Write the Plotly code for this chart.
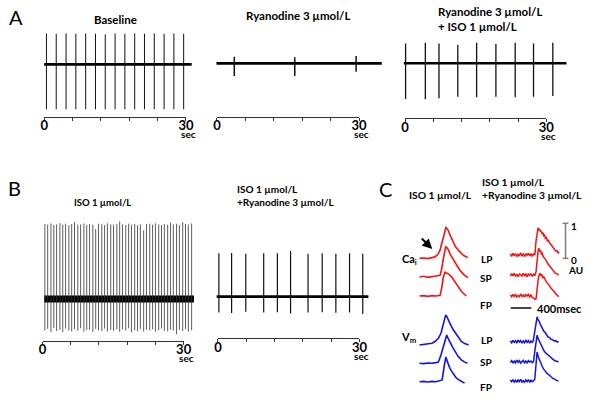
import plotly.graph_objects as go

W, H = 600, 401
FONT = "Lato"

# ======================= DATA =======================
# Panel A - spike times (s), upward / downward deflection (a.u.), recording span (s)
baseline_spike_s = [0.48, 2.55, 4.63, 6.70, 8.78, 10.85, 12.92, 15.00, 17.07, 19.15,
                    21.22, 23.29, 25.37, 27.44, 29.51]
baseline_up = [0.98, 0.97, 0.98, 0.97, 0.98, 0.97, 0.95, 0.98, 0.97, 0.98, 0.97, 0.98, 0.97, 0.98, 0.97]
baseline_dn = [-1.50, -1.52, -1.50, -1.49, -1.51, -1.50, -1.50, -1.49, -1.51, -1.50,
               -1.50, -1.51, -1.49, -1.50, -1.50]
baseline_rec = [0.0, 31.2]

ryan_spike_s = [3.66, 16.43, 29.38]
ryan_up = [0.21, 0.19, 0.23]
ryan_dn = [-0.40, -0.40, -0.27]
ryan_rec = [-0.1, 34.8]

ryaniso_spike_s = [0.1, 4.3, 7.2, 11.2, 15.2, 19.3, 23.4, 27.3, 31.4]
ryaniso_up = [0.63, 0.65, 0.63, 0.58, 0.65, 0.61, 0.65, 0.63, 0.65]
ryaniso_dn = [-1.13, -1.14, -1.11, -1.06, -1.08, -1.06, -1.08, -1.06, -1.04]
ryaniso_rec = [-0.27, 34.3]

# Panel B
iso_spike_s = [0.5, 1.1, 1.8, 2.4, 3.0, 3.7, 4.3, 4.9, 5.6, 6.2,
               6.8, 7.5, 8.1, 8.8, 9.4, 10.0, 10.7, 11.3, 11.9, 12.6,
               13.2, 13.8, 14.5, 15.1, 15.8, 16.4, 17.0, 17.7, 18.3, 18.9,
               19.6, 20.2, 20.8, 21.5, 22.1, 22.8, 23.4, 24.0, 24.7, 25.3,
               25.9, 26.6, 27.2, 27.8, 28.5, 29.1, 29.8, 30.4, 31.0, 31.7]
iso_up = [2.38, 2.36, 2.40, 2.35, 2.37, 2.41, 2.36, 2.39, 2.34, 2.38,
          2.45, 2.36, 2.37, 2.40, 2.35, 2.38, 2.36, 2.22, 2.39, 2.37,
          2.35, 2.40, 2.37, 2.36, 2.38, 2.46, 2.37, 2.35, 2.39, 2.36,
          2.38, 2.34, 2.37, 2.18, 2.38, 2.39, 2.36, 2.40, 2.37, 2.35,
          2.38, 2.36, 2.42, 2.37, 2.39, 2.35, 2.44, 2.38, 2.36, 2.40]
iso_dn = [-1.00, -0.95, -1.05, -0.92, -1.02, -0.98, -1.06, -0.94, -1.00, -1.03,
          -0.96, -1.01, -0.93, -1.04, -0.99, -0.97, -1.05, -0.95, -1.00, -1.02,
          -0.94, -1.03, -0.98, -1.01, -0.96, -1.04, -0.97, -1.00, -0.93, -1.05,
          -0.99, -1.02, -0.95, -1.03, -0.98, -1.00, -0.96, -1.04, -0.99, -0.94,
          -1.01, -1.03, -0.97, -1.00, -1.12, -0.98, -1.02, -0.95, -1.04, -0.99]
iso_rec = [0.35, 32.2]

isoryan_spike_s = [0.2, 2.9, 5.9, 9.7, 12.6, 15.4, 19.1, 22.1, 25.0, 27.9, 30.7]
isoryan_up = [1.38, 1.39, 1.36, 1.38, 1.38, 1.45, 1.36, 1.38, 1.36, 1.38, 1.36]
isoryan_dn = [-0.50, -0.52, -0.48, -0.50, -0.49, -0.53, -0.50, -0.49, -0.51, -0.50, -0.55]
isoryan_rec = [-0.27, 31.9]

time_tick_s = [0, 6, 12, 18, 24, 30]
time_tick_text = ["0", " ", " ", " ", " ", "30"]

# Panel C - optical traces (time in ms, amplitude in AU)
ca_iso_lp_ms = [0, 80, 160, 240, 300, 340, 368, 400, 432, 470, 500, 514, 530, 558, 600, 654, 700, 781, 860, 940]
ca_iso_lp = [0.00, 0.01, -0.01, 0.02, 0.04, 0.09, 0.14, 0.24, 0.43, 0.68, 0.84, 0.88, 0.86, 0.80, 0.64, 0.47, 0.33, 0.19, 0.08, 0.02]
ca_iso_sp_ms = [0, 80, 160, 240, 320, 400, 430, 460, 490, 508, 530, 559, 600, 654, 720, 781, 860, 940]
ca_iso_sp = [0.00, 0.02, -0.01, 0.02, 0.03, 0.05, 0.22, 0.50, 0.78, 0.86, 0.84, 0.78, 0.64, 0.50, 0.32, 0.20, 0.07, -0.02]
ca_iso_fp_ms = [0, 80, 160, 240, 320, 400, 430, 460, 495, 530, 570, 622, 680, 749, 820, 909]
ca_iso_fp = [0.00, 0.01, -0.01, 0.01, 0.00, 0.02, 0.22, 0.52, 0.68, 0.66, 0.62, 0.55, 0.42, 0.27, 0.12, 0.00]

vm_iso_lp_ms = [0, 80, 160, 242, 300, 368, 420, 460, 490, 509, 530, 560, 591, 650, 718, 770, 813, 880, 953]
vm_iso_lp = [0.00, 0.01, 0.02, 0.05, 0.10, 0.19, 0.35, 0.60, 0.80, 0.86, 0.82, 0.70, 0.62, 0.45, 0.29, 0.18, 0.10, 0.04, 0.00]
vm_iso_sp_ms = [0, 80, 160, 240, 320, 368, 420, 470, 510, 528, 560, 600, 650, 700, 750, 813, 870, 934]
vm_iso_sp = [0.00, -0.01, 0.01, 0.00, 0.02, 0.04, 0.25, 0.55, 0.78, 0.81, 0.70, 0.56, 0.44, 0.32, 0.20, 0.10, 0.04, 0.00]
vm_iso_fp_ms = [0, 80, 160, 240, 320, 400, 440, 480, 500, 514, 540, 591, 650, 718, 780, 850, 876]
vm_iso_fp = [0.00, 0.01, -0.01, 0.01, 0.00, 0.02, 0.05, 0.45, 0.66, 0.71, 0.58, 0.38, 0.24, 0.10, 0.04, -0.02, -0.04]

sample_ms = [0, 25, 50, 75, 100, 125, 150, 175, 200, 225, 250, 275, 300, 325, 350, 375, 400, 425, 450, 475]

ca_ryan_lp_ms = sample_ms[:19] + [476, 500, 520, 539, 555, 570, 585, 600, 615, 634, 650, 665, 680, 700,
                                  720, 740, 762, 785, 810, 835, 860, 885, 910, 930, 952]
ca_ryan_lp = [0.03, -0.04, 0.05, -0.02, 0.04, -0.05, 0.02, -0.03, 0.06, -0.02, 0.03, -0.05, 0.04, -0.01,
              0.05, -0.03, 0.04, -0.04, 0.03,
              0.00, 0.42, 0.70, 0.78, 0.70, 0.74, 0.66, 0.69, 0.60, 0.64, 0.55, 0.57, 0.48, 0.50,
              0.40, 0.42, 0.35, 0.30, 0.26, 0.19, 0.17, 0.11, 0.12, 0.06, 0.08]
ca_ryan_sp_ms = sample_ms + [500, 520, 540, 558, 575, 590, 605, 620, 640, 667, 690, 715, 740, 765,
                             794, 820, 845, 870, 895, 920, 940]
ca_ryan_sp = [-0.03, 0.04, -0.02, 0.05, -0.04, 0.02, -0.05, 0.03, 0.01, -0.04, 0.05, -0.02, 0.03, -0.05,
              0.04, -0.01, 0.03, -0.04, 0.02, -0.02,
              0.10, 0.48, 0.70, 0.76, 0.66, 0.70, 0.60, 0.62, 0.52, 0.48, 0.40, 0.36, 0.30, 0.25,
              0.19, 0.14, 0.10, 0.06, 0.04, 0.02, 0.00]
ca_ryan_fp_ms = sample_ms + [500, 520, 545, 571, 590, 610, 630, 650, 675, 698, 720, 745, 770, 800,
                             825, 850, 875, 900, 920, 940]
ca_ryan_fp = [0.02, -0.03, 0.04, -0.02, 0.03, -0.04, 0.01, -0.03, 0.05, -0.02, 0.02, -0.04, 0.03, -0.01,
              0.04, -0.03, 0.02, -0.05, -0.06, -0.10,
              -0.08, 0.20, 0.52, 0.64, 0.58, 0.60, 0.52, 0.54, 0.44, 0.40, 0.36, 0.30, 0.26, 0.20,
              0.16, 0.10, 0.07, 0.03, 0.00, -0.03]

vm_ryan_lp_ms = sample_ms[:18] + [444, 470, 495, 520, 540, 560, 580, 602, 625, 650, 675, 700, 730, 760,
                                  790, 820, 850, 880, 910, 939]
vm_ryan_lp = [0.02, -0.03, 0.04, -0.02, 0.03, -0.04, 0.05, -0.01, 0.03, -0.04, 0.02, -0.03, 0.05, -0.02,
              0.03, -0.04, 0.02, -0.02,
              0.02, 0.25, 0.55, 0.71, 0.62, 0.58, 0.50, 0.43, 0.38, 0.30, 0.27, 0.20, 0.14, 0.12,
              0.07, 0.06, 0.02, 0.03, -0.01, 0.01]
vm_ryan_sp_ms = sample_ms[:18] + [450, 475, 500, 520, 540, 560, 580, 602, 625, 650, 680, 710, 740, 762,
                                  790, 820, 850, 880, 910, 939]
vm_ryan_sp = [-0.02, 0.03, -0.04, 0.02, -0.03, 0.05, -0.02, 0.03, -0.04, 0.01, 0.04, -0.03, 0.02, -0.04,
              0.03, -0.01, 0.02, -0.03,
              0.00, 0.30, 0.62, 0.76, 0.66, 0.60, 0.52, 0.43, 0.38, 0.32, 0.26, 0.22, 0.17, 0.14,
              0.10, 0.06, 0.04, 0.02, 0.01, 0.00]
vm_ryan_fp_ms = sample_ms[:19] + [475, 500, 520, 540, 560, 580, 602, 625, 650, 680, 710, 740, 762, 790,
                                  820, 850, 880, 910, 939]
vm_ryan_fp = [0.03, -0.02, 0.04, -0.03, 0.02, -0.04, 0.03, -0.02, 0.05, -0.03, 0.01, -0.04, 0.03, -0.02,
              0.04, -0.03, 0.02, -0.02, 0.01,
              0.05, 0.50, 0.83, 0.70, 0.62, 0.52, 0.45, 0.40, 0.33, 0.27, 0.22, 0.19, 0.17, 0.12,
              0.08, 0.05, 0.03, 0.01, 0.00]

scale_au = 1
scale_ms = 400

# ======================= LAYOUT =======================
fig = go.Figure()
layout = {}
annotations = []
shapes = []

SY = 31.5  # px per amplitude unit in panels A/B


def ax_key(kind, i):
    return kind + ("axis" if i == 1 else f"axis{i}")


def ax_ref(kind, i):
    return kind if i == 1 else f"{kind}{i}"


def spike_xy(ts, ups, dns):
    xs, ys = [], []
    for t, u, d in zip(ts, ups, dns):
        xs += [t, t, None]
        ys += [u, d, None]
    return xs, ys


panels = [
    dict(t=baseline_spike_s, up=baseline_up, dn=baseline_dn, rec=baseline_rec,
         zero=41.0, s30=185.7, base=64.3, ruler=116.7, band=2.8, sw=1.0, sc="#111"),
    dict(t=ryan_spike_s, up=ryan_up, dn=ryan_dn, rec=ryan_rec,
         zero=217.3, s30=362.3, base=63.3, ruler=116.7, band=2.8, sw=1.5, sc="#111"),
    dict(t=ryaniso_spike_s, up=ryaniso_up, dn=ryaniso_dn, rec=ryaniso_rec,
         zero=409.3, s30=553.3, base=63.3, ruler=118.3, band=2.4, sw=1.3, sc="#111"),
    dict(t=iso_spike_s, up=iso_up, dn=iso_dn, rec=iso_rec,
         zero=39.3, s30=183.3, base=299.0, ruler=340.7, band=7.0, sw=0.8, sc="#333"),
    dict(t=isoryan_spike_s, up=isoryan_up, dn=isoryan_dn, rec=isoryan_rec,
         zero=218.3, s30=362.7, base=296.7, ruler=338.3, band=2.8, sw=1.2, sc="#111"),
]

for k, p in enumerate(panels, start=1):
    sx = (p["s30"] - p["zero"]) / 30.0
    xa_px, xb_px = p["zero"] - 6, min(p["s30"] + 40, W)
    ya_px, yb_px = max(p["base"] - 85, 0), p["base"] + 45
    layout[ax_key("x", k)] = dict(domain=[xa_px / W, xb_px / W],
                                  range=[(xa_px - p["zero"]) / sx, (xb_px - p["zero"]) / sx],
                                  visible=False, anchor=ax_ref("y", k))
    layout[ax_key("y", k)] = dict(domain=[1 - yb_px / H, 1 - ya_px / H],
                                  range=[-(yb_px - p["base"]) / SY, (p["base"] - ya_px) / SY],
                                  visible=False, anchor=ax_ref("x", k))
    fig.add_trace(go.Scatter(x=p["rec"], y=[0, 0], mode="lines",
                             line=dict(color="black", width=p["band"]),
                             xaxis=ax_ref("x", k), yaxis=ax_ref("y", k), hoverinfo="skip"))
    xs, ys = spike_xy(p["t"], p["up"], p["dn"])
    fig.add_trace(go.Scatter(x=xs, y=ys, mode="lines",
                             line=dict(color=p["sc"], width=p["sw"]),
                             xaxis=ax_ref("x", k), yaxis=ax_ref("y", k), hoverinfo="skip"))
    # time ruler
    r = k + 5
    layout[ax_key("x", r)] = dict(domain=[p["zero"] / W, p["s30"] / W], range=[0, 30],
                                  anchor="free", position=1 - p["ruler"] / H,
                                  showline=True, linecolor="#333", linewidth=1,
                                  ticks="", tickvals=time_tick_s, ticktext=time_tick_text,
                                  ticklabelstandoff=-3,
                                  minor=dict(ticks="outside", ticklen=3, tickwidth=1,
                                             tickcolor="#333", tickvals=time_tick_s),
                                  tickfont=dict(family=FONT, size=13, color="black", weight="bold"),
                                  showgrid=False, zeroline=False)
    fig.add_trace(go.Scatter(x=[0, 30], y=[0, 0], mode="markers", marker=dict(opacity=0),
                             xaxis=ax_ref("x", r), yaxis=ax_ref("y", k), hoverinfo="skip"))
    annotations.append(dict(x=(p["s30"] + 2.5) / W, y=1 - (p["ruler"] + 17.5) / H,
                            xref="paper", yref="paper", text="sec", showarrow=False,
                            xanchor="center", yanchor="middle",
                            font=dict(family=FONT, size=10, color="black", weight="bold")))

# ---- Panel C axis ----
C = 11
C_X0_PX = 424.0
MS_PER_PX = 400 / 21.0
AU_PX = 35.0
RIGHT_COL_MS = (516.7 - C_X0_PX) * MS_PER_PX
layout[ax_key("x", C)] = dict(domain=[400 / W, 1.0],
                              range=[(400 - C_X0_PX) * MS_PER_PX, (W - C_X0_PX) * MS_PER_PX],
                              visible=False, anchor=ax_ref("y", C))
layout[ax_key("y", C)] = dict(domain=[0, 1], range=[0, H / AU_PX], visible=False,
                              anchor=ax_ref("x", C))


def au_row(py):
    return (H - py) / AU_PX


RED = "#f21414"
BLUE = "#1414e0"
c_traces = [
    (ca_iso_lp_ms, ca_iso_lp, 0, 258.3, RED, 1.6),
    (ca_iso_sp_ms, ca_iso_sp, 0, 277.0, RED, 1.6),
    (ca_iso_fp_ms, ca_iso_fp, 0, 296.0, RED, 1.6),
    (vm_iso_lp_ms, vm_iso_lp, 0, 345.0, BLUE, 1.6),
    (vm_iso_sp_ms, vm_iso_sp, 0, 363.3, BLUE, 1.6),
    (vm_iso_fp_ms, vm_iso_fp, 0, 381.7, BLUE, 1.6),
    (ca_ryan_lp_ms, ca_ryan_lp, RIGHT_COL_MS, 255.0, RED, 1.5),
    (ca_ryan_sp_ms, ca_ryan_sp, RIGHT_COL_MS, 275.0, RED, 1.5),
    (ca_ryan_fp_ms, ca_ryan_fp, RIGHT_COL_MS, 295.7, RED, 1.5),
    (vm_ryan_lp_ms, vm_ryan_lp, RIGHT_COL_MS, 341.7, BLUE, 1.5),
    (vm_ryan_sp_ms, vm_ryan_sp, RIGHT_COL_MS, 361.7, BLUE, 1.5),
    (vm_ryan_fp_ms, vm_ryan_fp, RIGHT_COL_MS, 381.0, BLUE, 1.5),
]
for tms, val, xoff, py, col, lw in c_traces:
    off = au_row(py)
    fig.add_trace(go.Scatter(x=[t + xoff for t in tms], y=[v + off for v in val], mode="lines",
                             line=dict(color=col, width=lw),
                             xaxis=ax_ref("x", C), yaxis=ax_ref("y", C), hoverinfo="skip"))

# scale bars (through panel C axes)
xr, yr = ax_ref("x", C), ax_ref("y", C)
sb_x = (573 - C_X0_PX) * MS_PER_PX
sb_y0 = au_row(258.3)
tick_half = 3 * MS_PER_PX
shapes.append(dict(type="line", xref=xr, yref=yr, x0=sb_x, x1=sb_x, y0=sb_y0, y1=sb_y0 + scale_au,
                   line=dict(color="#7f7f7f", width=1.5)))
for yy in (sb_y0, sb_y0 + scale_au):
    shapes.append(dict(type="line", xref=xr, yref=yr, x0=sb_x - tick_half, x1=sb_x + tick_half,
                       y0=yy, y1=yy, line=dict(color="#7f7f7f", width=1.5)))
hb_x0 = (517 - C_X0_PX) * MS_PER_PX
hb_y = au_row(308)
shapes.append(dict(type="line", xref=xr, yref=yr, x0=hb_x0, x1=hb_x0 + scale_ms, y0=hb_y, y1=hb_y,
                   line=dict(color="#333", width=1.8)))


def text(px, py, s, size=10, weight="bold", xanchor="center", align="center"):
    annotations.append(dict(x=px / W, y=1 - py / H, xref="paper", yref="paper", text=s,
                            showarrow=False, xanchor=xanchor, yanchor="middle", align=align,
                            font=dict(family=FONT, size=size, color="black", weight=weight)))


# panel letters
text(12, 17, "A", size=20, weight="normal")
text(11, 188, "B", size=20, weight="normal")
text(389, 189, "C", size=20, weight="normal")

# titles
text(114, 19, "Baseline", size=11.5)
text(300, 15.5, "Ryanodine 3 µmol/L", size=11.5)
text(441, 19, "Ryanodine 3 µmol/L<br>+ ISO 1 µmol/L", size=11.5, xanchor="left", align="left")
text(100, 202, "ISO 1 µmol/L", size=9.5)
text(236, 195, "ISO 1 µmol/L<br>+Ryanodine 3 µmol/L", size=10, xanchor="left", align="left")
text(445, 195, "ISO 1 µmol/L", size=10.3)
text(486, 188.5, "ISO 1 µmol/L<br>+Ryanodine 3 µmol/L", size=10.3, xanchor="left", align="left")

# panel C labels
text(414, 259, "Ca<sub>i</sub>", size=11)
text(413, 337, "V<sub>m</sub>", size=11)
for py, s in [(259, "LP"), (278, "SP"), (305, "FP"), (340, "LP"), (362, "SP"), (387, "FP")]:
    text(492, py, s, size=10)
text(582, 226, "1", size=10)
text(582, 260, "0", size=10)
text(583, 270, "AU", size=10)
text(542, 308, "400msec", size=11, xanchor="left")

# arrow
annotations.append(dict(x=437 / W, y=1 - 249 / H, xref="paper", yref="paper", text="",
                        showarrow=True, ax=-12, ay=-12, arrowhead=2, arrowsize=1,
                        arrowwidth=2, arrowcolor="black"))

fig.update_layout(**layout)
fig.update_layout(width=W, height=H, margin=dict(l=0, r=0, t=0, b=0), autosize=False,
                  showlegend=False, paper_bgcolor="white", plot_bgcolor="rgba(0,0,0,0)",
                  annotations=annotations, shapes=shapes)
fig.write_html("out.html", config={"displayModeBar": False, "staticPlot": True},
               post_script="document.body.style.margin='0px';document.body.style.overflow='hidden';")
